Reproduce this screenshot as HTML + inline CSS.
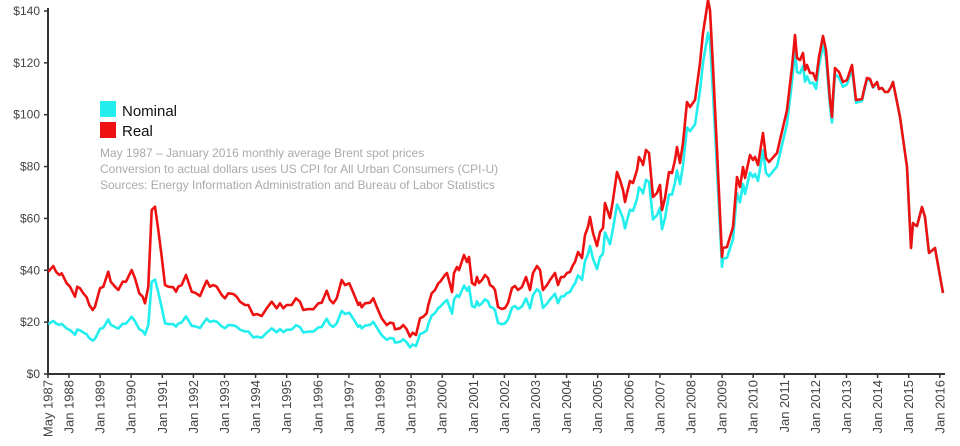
<!DOCTYPE html>
<html><head><meta charset="utf-8"><style>
html,body{margin:0;padding:0;background:#fff;}
svg{display:block;font-family:"Liberation Sans",sans-serif;}
</style></head><body>
<svg id="s" width="960" height="446" viewBox="0 0 960 446" xmlns="http://www.w3.org/2000/svg">
<g id="ax" stroke="#333" stroke-width="2" fill="none">
<line x1="48" y1="8" x2="48" y2="375"/>
<line x1="47" y1="374" x2="945" y2="374"/>
</g>
<g id="tk" stroke="#333" stroke-width="1.5"></g>
<g id="yl" font-size="12" fill="#444" text-anchor="end"></g>
<g id="xl" font-size="13" fill="#444" text-anchor="end"></g>
<path id="nom" fill="none" stroke="#22eeee" stroke-width="2.6" stroke-linejoin="round"/>
<path id="real" fill="none" stroke="#ee1111" stroke-width="2.6" stroke-linejoin="round"/>
<rect x="100" y="101" width="16" height="16" fill="#22eeee"/>
<rect x="100" y="122" width="16" height="16" fill="#ee1111"/>
<text x="122" y="116" font-size="15" fill="#111">Nominal</text>
<text x="122" y="136" font-size="15" fill="#111">Real</text>
<g font-size="12" fill="#aaa">
<text x="100" y="157">May 1987 – January 2016 monthly average Brent spot prices</text>
<text x="100" y="173">Conversion to actual dollars uses US CPI for All Urban Consumers (CPI-U)</text>
<text x="100" y="189">Sources: Energy Information Administration and Bureau of Labor Statistics</text>
</g>
</svg>
<script>
var NS="http://www.w3.org/2000/svg";
function el(p,t,a,txt){var e=document.createElementNS(NS,t);for(var k in a)e.setAttribute(k,a[k]);if(txt)e.textContent=txt;document.getElementById(p).appendChild(e);}
for(var v=0;v<=140;v+=20){var y=374-v*2.593;el("tk","line",{x1:44,y1:y,x2:48,y2:y});el("yl","text",{x:40,y:y+4},"$"+v);}
var xs=[48];for(var i=0;i<=28;i++)xs.push(69+i*31.1);
for(var i=0;i<xs.length;i++){var x=xs[i];el("tk","line",{x1:x,y1:374,x2:x,y2:378});
var lab=i==0?"May 1987":"Jan "+(1987+i);el("xl","text",{x:0,y:0,transform:"translate("+(x+4.5)+",380) rotate(-90)"},lab);}
var z3=[25,245,40,228,48,245,58,255,65,250,80,280,90,290,105,320,112,290,120,295,130,310,140,322,148,345,158,360,165,350,180,295,190,290,205,245,212,275,225,290,235,300,248,275,258,275,275,240,285,265,298,310,308,320,315,340,325,290,335,60,345,50,355,120,365,200,375,285,385,290,400,292,408,305,415,290,425,285,438,255,445,275,455,305,465,308,480,318,490,295,500,272,510,290,520,285,530,290,545,315,555,325,565,310,580,312,590,320,600,335,615,345,625,345,640,375,650,372,665,378,680,355,695,335,710,355,720,340,730,355,740,345,755,345,768,325,780,335,790,360,800,358,810,357,820,358,835,340,845,338,860,302,870,330,880,340,890,325,905,270,915,285,928,280,945,320,955,345,960,338,965,352,975,340,990,338,1000,325,1010,350,1025,385,1040,405,1050,398,1060,400,1065,418,1080,415,1090,405,1100,418,1110,440,1118,428,1128,435,1140,385,1150,380,1160,370,1165,345,1175,310,1185,300,1195,280];
var pts=[];for(var i=0;i<z3.length;i+=2)pts.push([40+z3[i]/3,190+z3[i+1]/3]);
var p2=[440,282,445,275,447,273,452,292,454,273,457,267,459,270,464,255,467,262,469,257,472,283,475,285,477,277,479,283,482,280,485,275,488,278,490,285,493,287,495,290,498,307,502,309,505,308,508,303,512,288,515,286,518,290,522,287,526,277,530,290,533,273,537,266,540,270,543,290,547,285,550,280,555,273,558,285,561,277,564,277,567,273,570,272,573,265,575,262,578,252,582,258,585,235,588,227,590,217,593,233,597,246,600,232,603,228,605,203,608,212,610,218,613,200,617,172,620,180,623,190,625,202,627,193,630,181,633,183,637,170,639,157,642,162,643,165,646,150,649,153,653,197,657,193,660,185,662,210,665,198,669,172,672,173,675,160,677,147,680,163,683,143,687,102,690,107,695,100,700,63,703,33,707,7,708,0,710,10,713,67,717,150,722,257,723,248,727,247,733,227,737,177,740,187,743,167,745,178,750,155,753,160,755,157,758,165,763,133,766,158,769,162,777,153,780,140,787,110,792,67,795,35,797,58,800,60,803,53,805,70,807,65,810,73,813,73,816,80,819,57,823,36,826,50,830,100,832,117,833,97,835,68,839,72,843,82,847,80,852,65,856,100,862,99,864,90,867,78,870,79,873,87,877,82,879,89,882,88,885,92,888,92,891,87,893,82,900,117,907,167,911,248,913,223,915,225,917,226,922,207,925,217,929,253,935,248,943,293];
for(var i=0;i<p2.length;i+=2)pts.push([p2[i],p2[i+1]]);
function fac(x){var yr=1987.33+(x-48)/31.1;var c=[[1987,0.48],[1990,0.55],[1995,0.64],[2000,0.73],[2005,0.82],[2008,0.91],[2010,0.92],[2012,0.97],[2014,1.0],[2017,1.0]];
for(var i=0;i<c.length-1;i++)if(yr<=c[i+1][0]){var t=(yr-c[i][0])/(c[i+1][0]-c[i][0]);return c[i][1]+t*(c[i+1][1]-c[i][1]);}return 1;}
var dr="",dn="";
for(var i=0;i<pts.length;i++){var x=pts[i][0],y=pts[i][1];dr+=(i?"L":"M")+x.toFixed(1)+" "+y.toFixed(1);
var v=(374-y)/2.593*fac(x);dn+=(i?"L":"M")+x.toFixed(1)+" "+(374-v*2.593).toFixed(1);}
document.getElementById("real").setAttribute("d",dr);document.getElementById("nom").setAttribute("d",dn);
</script>
</body></html>
